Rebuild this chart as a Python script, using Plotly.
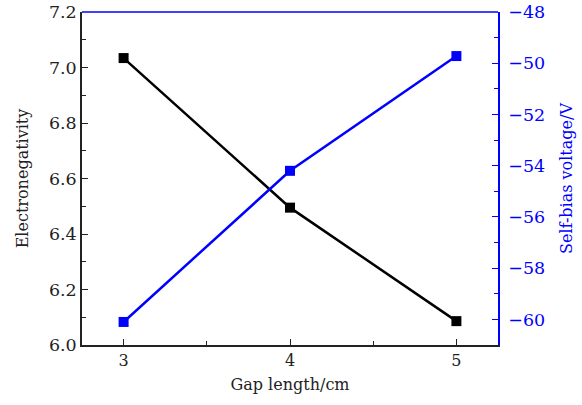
import plotly.graph_objects as go

gap_length = [3, 4, 5]
electronegativity = [7.034, 6.495, 6.086]
self_bias_voltage = [-60.1, -54.2, -49.72]

FONT = "DejaVu Serif"
BLUE = "#0000ff"
INK = "#222222"

fig = go.Figure()
fig.add_trace(go.Scatter(
    x=gap_length, y=electronegativity, mode="lines+markers",
    line=dict(color="black", width=2.5),
    marker=dict(symbol="square", size=10, color="black"),
    showlegend=False, yaxis="y"))
fig.add_trace(go.Scatter(
    x=gap_length, y=self_bias_voltage, mode="lines+markers",
    line=dict(color=BLUE, width=2.5),
    marker=dict(symbol="square", size=10, color=BLUE),
    showlegend=False, yaxis="y2"))

fig.update_layout(
    width=582, height=405,
    margin=dict(l=82, r=84, t=12, b=60),
    paper_bgcolor="white", plot_bgcolor="white",
    font=dict(family=FONT, size=16, color=INK),
    xaxis=dict(
        range=[2.75, 5.25], tickvals=[3, 4, 5], ticks="inside", ticklen=6,
        tickwidth=1.2, tickcolor=INK, automargin=False,
        minor=dict(tickvals=[3.5, 4.5], ticks="inside", ticklen=4, tickcolor=INK),
        showline=True, linecolor=INK, linewidth=1.5, showgrid=False, zeroline=False,
        title=dict(text="Gap length/cm", font=dict(size=16), standoff=10),
        tickfont=dict(size=16),
    ),
    yaxis=dict(
        range=[6.0, 7.2], tickvals=[6.0, 6.2, 6.4, 6.6, 6.8, 7.0, 7.2],
        tickformat=".1f", ticks="inside", ticklen=6, tickwidth=1.2, tickcolor=INK,
        automargin=False,
        minor=dict(dtick=0.1, ticks="inside", ticklen=4, tickcolor=INK),
        showline=True, linecolor=INK, linewidth=1.5, showgrid=False, zeroline=False,
        title=dict(text="Electronegativity", font=dict(size=16), standoff=16),
        tickfont=dict(size=17.5),
    ),
    yaxis2=dict(
        overlaying="y", side="right", anchor="x",
        range=[-61, -48], tickvals=[-60, -58, -56, -54, -52, -50, -48],
        ticks="inside", ticklen=6, tickwidth=1.2, tickcolor=BLUE,
        ticklabelstandoff=5, automargin=False,
        minor=dict(tickvals=[-61, -59, -57, -55, -53, -51, -49], ticks="inside", ticklen=4, tickcolor=BLUE),
        showline=True, linecolor=BLUE, linewidth=1.5, showgrid=False, zeroline=False,
        title=dict(text="Self-bias voltage/V", font=dict(size=16, color=BLUE), standoff=17),
        tickfont=dict(size=17.5, color=BLUE),
    ),
    shapes=[dict(type="line", xref="paper", yref="paper", x0=0, x1=1, y0=1, y1=1,
                 line=dict(color=BLUE, width=1.5))],
)

fig.write_html("out.html")
